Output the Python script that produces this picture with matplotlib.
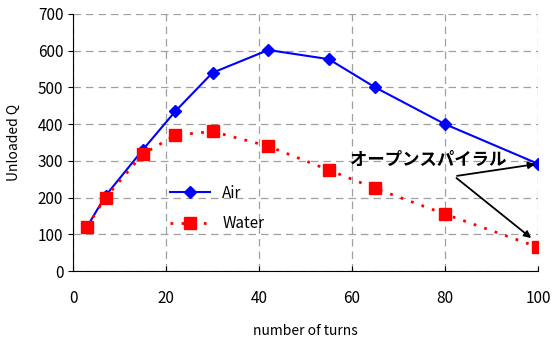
import matplotlib.pyplot as plt

plt.rcParams['font.family'] = ['Noto Sans CJK JP', 'DejaVu Sans']

turns = [3, 7, 15, 22, 30, 42, 55, 65, 80, 100]
q_air = [120, 205, 330, 435, 540, 602, 577, 500, 400, 292]
q_water = [120, 200, 318, 370, 380, 340, 275, 225, 155, 65]

fig = plt.figure(figsize=(5.53, 3.49), dpi=100)
ax = fig.add_axes([73 / 553, 1 - 271 / 349, 465 / 553, 257 / 349])

ax.plot(turns, q_air, color='#0000ff', lw=1.5, marker='D', ms=6.5,
        label='Air', zorder=3)
ax.plot(turns, q_water, color='#ff0000', lw=2, ls=(0, (1, 3)), marker='s',
        ms=8, label='Water', zorder=3)

ax.set_xlim(0, 100)
ax.set_ylim(0, 700)
ax.set_xticks(range(0, 101, 20))
ax.set_yticks(range(0, 701, 100))
ax.grid(True, color='#a0a0a0', ls=(0, (6, 4)), lw=0.9)
ax.spines['top'].set_visible(False)
ax.spines['right'].set_visible(False)
ax.tick_params(axis='x', direction='in', pad=14, labelsize=11)
ax.tick_params(axis='y', direction='out', labelsize=11)
ax.set_xlabel('number of turns', fontsize=10, labelpad=12)
ax.set_ylabel('Unloaded Q', fontsize=10, labelpad=12)

ax.legend(loc='upper left', bbox_to_anchor=(0.18, 0.39), frameon=False,
          fontsize=11, handlelength=2.6, labelspacing=0.9)

ax.annotate('', xy=(100, q_air[-1]), xytext=(82, 258),
            arrowprops=dict(arrowstyle='-|>', color='black', lw=1.3))
ax.annotate('', xy=(99, 85), xytext=(82, 258),
            arrowprops=dict(arrowstyle='-|>', color='black', lw=1.3))
ax.text(59.5, 303, 'オープンスパイラル', fontsize=12.5, fontweight='bold',
        ha='left', va='center')

fig.savefig('out.png', dpi=100)
